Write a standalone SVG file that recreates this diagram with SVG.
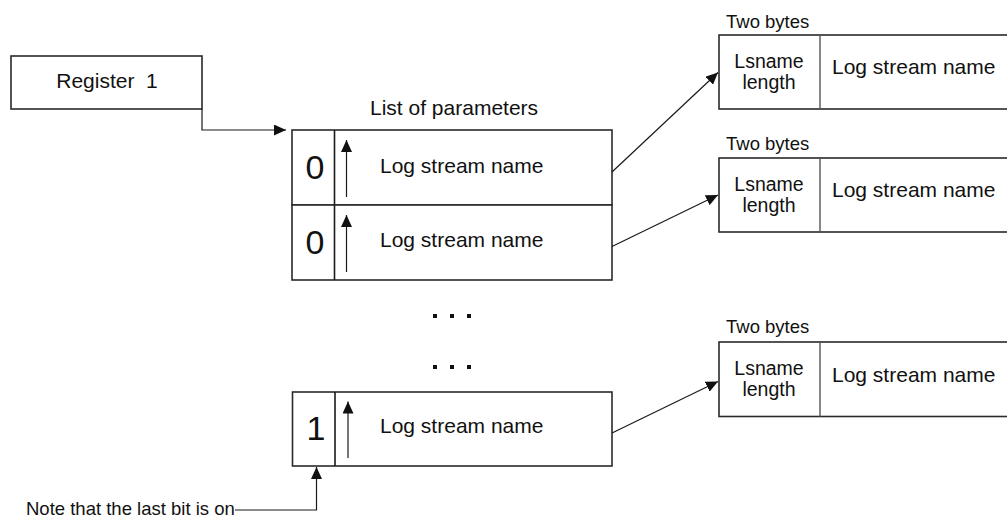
<svg xmlns="http://www.w3.org/2000/svg" width="1007" height="517" viewBox="0 0 1007 517">
<defs>
<style>
.t{font-family:"Liberation Sans",Arial,Helvetica,sans-serif;fill:#111;}
.box{fill:#fff;stroke:#2a2a2a;stroke-width:1.6;}
.ln{fill:none;stroke:#1a1a1a;stroke-width:1.2;}
.big{font-size:34px;text-anchor:middle;}
.lbl{font-size:21px;}
.ls{font-size:19.5px;text-anchor:middle;}
.sm{font-size:18.5px;}
.dot{fill:#111;}
</style>
<marker id="ah" markerUnits="userSpaceOnUse" markerWidth="12" markerHeight="11" refX="12" refY="5.5" orient="auto">
<path d="M0,0 L12,5.5 L0,11 z" fill="#111"/>
</marker>
</defs>

<g id="register1">
<rect class="box" x="11" y="56" width="191" height="53"/>
<text class="t lbl" x="107" y="88" text-anchor="middle" xml:space="preserve">Register  1</text>
</g>

<g id="parameter-list">
<text class="t lbl" x="370" y="115">List of parameters</text>
<g id="param-row1">
<rect class="box" x="292" y="130" width="320" height="75"/>
<line class="ln" x1="334.5" y1="130" x2="334.5" y2="205" style="stroke-width:1.6"/>
<text class="t big" x="315" y="179">0</text>
<line class="ln" x1="346.5" y1="197" x2="346.5" y2="140" marker-end="url(#ah)"/>
<text class="t lbl" x="380" y="173">Log stream name</text>
</g>
<g id="param-row2">
<rect class="box" x="292" y="205" width="320" height="75"/>
<line class="ln" x1="334.5" y1="205" x2="334.5" y2="280" style="stroke-width:1.6"/>
<text class="t big" x="315" y="254">0</text>
<line class="ln" x1="346.5" y1="272" x2="346.5" y2="215" marker-end="url(#ah)"/>
<text class="t lbl" x="380" y="247">Log stream name</text>
</g>
<g id="ellipsis">
<rect class="dot" x="433" y="314" width="4" height="4"/>
<rect class="dot" x="450" y="314" width="4" height="4"/>
<rect class="dot" x="467" y="314" width="4" height="4"/>
<rect class="dot" x="433" y="365" width="4" height="4"/>
<rect class="dot" x="450" y="365" width="4" height="4"/>
<rect class="dot" x="467" y="365" width="4" height="4"/>
</g>
<g id="param-row3">
<rect class="box" x="292.5" y="392" width="319.5" height="74"/>
<line class="ln" x1="335" y1="392" x2="335" y2="466" style="stroke-width:1.6"/>
<text class="t big" x="316" y="440">1</text>
<line class="ln" x1="348" y1="458" x2="348" y2="401.5" marker-end="url(#ah)"/>
<text class="t lbl" x="380" y="433">Log stream name</text>
</g>
</g>

<g id="entry1">
<text class="t sm" x="726" y="27.5">Two bytes</text>
<rect class="box" x="719" y="35" width="300" height="74"/>
<line class="ln" x1="820" y1="35" x2="820" y2="109" style="stroke-width:1.4;stroke:#555"/>
<text class="t ls"><tspan x="769" y="67.5">Lsname</tspan><tspan x="769" y="89">length</tspan></text>
<text class="t lbl" x="832" y="74">Log stream name</text>
</g>

<g id="entry2">
<text class="t sm" x="726" y="149.5">Two bytes</text>
<rect class="box" x="719" y="158" width="300" height="74"/>
<line class="ln" x1="820" y1="158" x2="820" y2="232" style="stroke-width:1.4;stroke:#555"/>
<text class="t ls"><tspan x="769" y="190.5">Lsname</tspan><tspan x="769" y="212">length</tspan></text>
<text class="t lbl" x="832" y="196.5">Log stream name</text>
</g>

<g id="entry3">
<text class="t sm" x="726" y="333">Two bytes</text>
<rect class="box" x="719" y="342" width="300" height="74.5"/>
<line class="ln" x1="820" y1="342" x2="820" y2="416.5" style="stroke-width:1.4;stroke:#555"/>
<text class="t ls"><tspan x="769" y="374.5">Lsname</tspan><tspan x="769" y="396">length</tspan></text>
<text class="t lbl" x="832" y="382">Log stream name</text>
</g>

<g id="note">
<text class="t sm" x="26" y="515">Note that the last bit is on</text>
</g>

<g id="connectors">
<polyline class="ln" points="202,109 202,130 286,130" marker-end="url(#ah)"/>
<line class="ln" x1="612" y1="172" x2="718" y2="72.5" marker-end="url(#ah)"/>
<line class="ln" x1="612" y1="246.5" x2="718" y2="195" marker-end="url(#ah)"/>
<line class="ln" x1="612" y1="433" x2="718" y2="381.5" marker-end="url(#ah)"/>
<polyline class="ln" points="235,510 316.5,510 316.5,467" marker-end="url(#ah)"/>
</g>
</svg>
